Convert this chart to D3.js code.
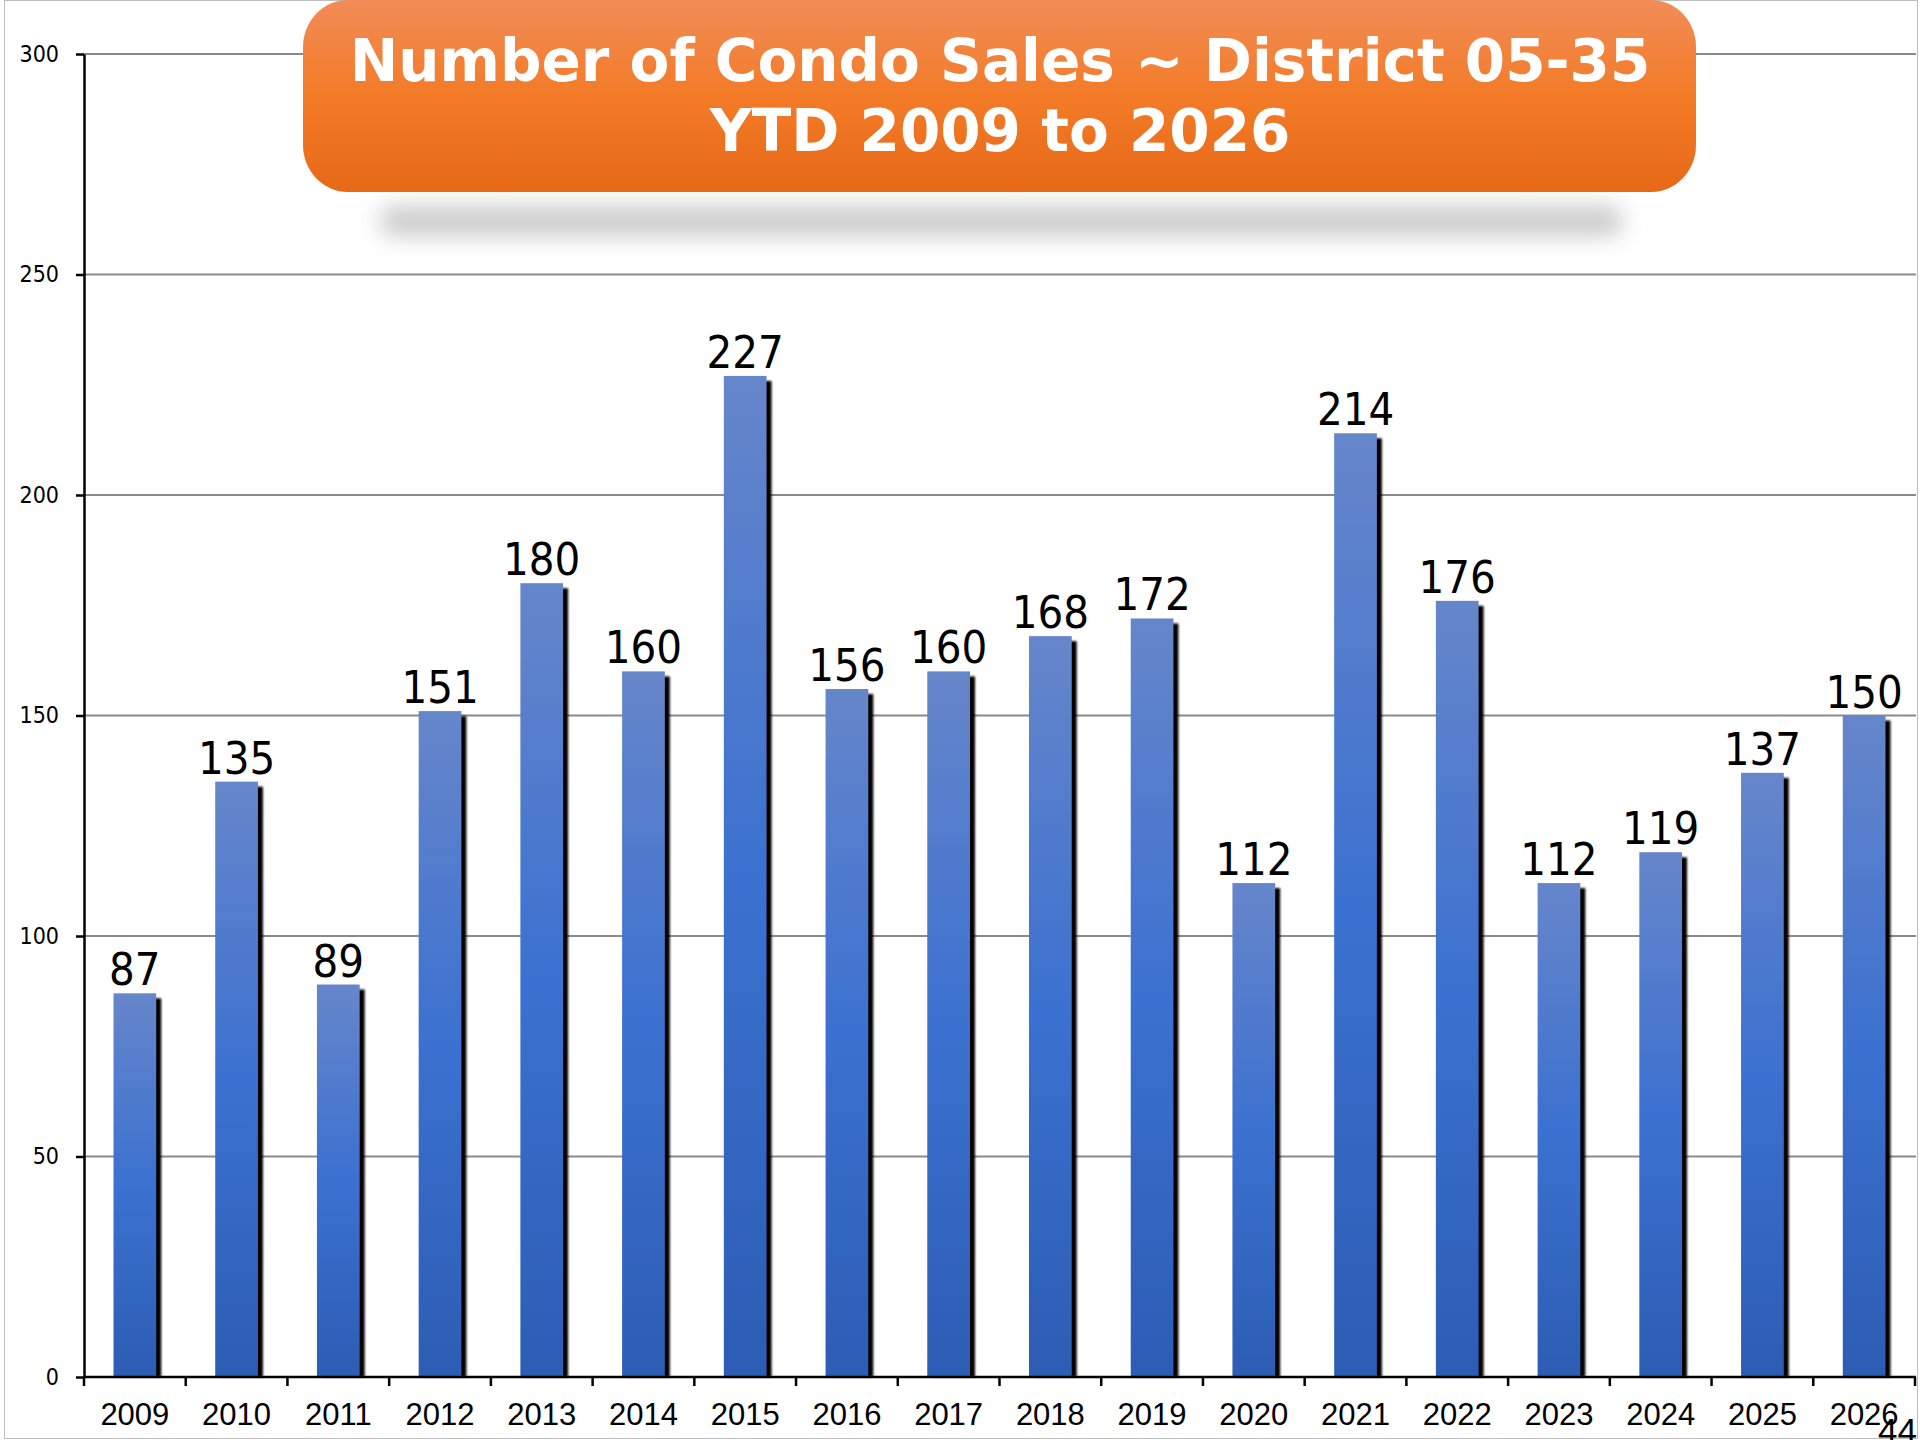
<!DOCTYPE html>
<html>
<head>
<meta charset="utf-8">
<script src="https://cdn.jsdelivr.net/npm/d3@7"></script>
<style>
    body { margin: 0; background: #fff; }
    svg { display: block; }
</style>
</head>
<body>
<svg width="1920" height="1440"></svg>
<script>
const years = ["2009", "2010", "2011", "2012", "2013", "2014", "2015", "2016", "2017",
    "2018", "2019", "2020", "2021", "2022", "2023", "2024", "2025", "2026"];
const sales = [87, 135, 89, 151, 180, 160, 227, 156, 160, 168, 172, 112, 214, 176, 112, 119, 137, 150];
const yTicks = [0, 50, 100, 150, 200, 250, 300];
const titleLines = ["Number of Condo Sales ~ District 05-35", "YTD 2009 to 2026"];
const pageNumber = "44";

const data = years.map((y, i) => ({ year: y, value: sales[i] }));

const plotLeft = 84, plotRight = 1915, plotTop = 54, plotBottom = 1377;
const condensed = "'DejaVu Sans Condensed', 'DejaVu Sans', sans-serif";

var svg = d3.select("svg");
var defs = svg.append("defs");

var barGrad = defs.append("linearGradient")
    .attr("id", "barGrad")
    .attr("x1", 0).attr("y1", 0).attr("x2", 0).attr("y2", 1);
barGrad.append("stop").attr("offset", "0%").attr("stop-color", "#6686ca");
barGrad.append("stop").attr("offset", "50%").attr("stop-color", "#3b71d0");
barGrad.append("stop").attr("offset", "100%").attr("stop-color", "#2c5db4");

var titleGrad = defs.append("linearGradient")
    .attr("id", "titleGrad")
    .attr("x1", 0).attr("y1", 0).attr("x2", 0).attr("y2", 1);
titleGrad.append("stop").attr("offset", "0%").attr("stop-color", "#f18c58");
titleGrad.append("stop").attr("offset", "50%").attr("stop-color", "#f37b27");
titleGrad.append("stop").attr("offset", "100%").attr("stop-color", "#e76918");

defs.append("filter").attr("id", "blurBig")
    .attr("x", "-20%").attr("y", "-150%").attr("width", "140%").attr("height", "400%")
    .append("feGaussianBlur").attr("stdDeviation", 11);
defs.append("filter").attr("id", "blurSmall")
    .append("feGaussianBlur").attr("stdDeviation", 0.8);

// outer frame
svg.append("rect")
    .attr("x", 4.5).attr("y", 0.5)
    .attr("width", 1913).attr("height", 1438)
    .attr("fill", "none")
    .attr("stroke", "#bdbdbd");

var x = d3.scaleBand().domain(years).range([plotLeft, plotRight]);
var y = d3.scaleLinear().domain([0, 300]).range([plotBottom, plotTop]);

// gridlines
svg.append("g")
    .selectAll("line")
    .data(yTicks.filter(d => d > 0))
    .enter()
    .append("line")
    .attr("x1", plotLeft).attr("x2", plotRight + 1)
    .attr("y1", d => y(d)).attr("y2", d => y(d))
    .attr("stroke", "#8a8a8a")
    .attr("stroke-width", 2);

// y axis
var yAxis = svg.append("g")
    .attr("transform", `translate(${plotLeft},0)`)
    .call(d3.axisLeft(y).tickValues(yTicks).tickSize(8).tickPadding(17).tickSizeOuter(0));
yAxis.select(".domain").attr("stroke", "#000").attr("stroke-width", 2.5);
yAxis.selectAll(".tick line").attr("stroke", "#000").attr("stroke-width", 2.5);
yAxis.selectAll(".tick text")
    .attr("font-family", condensed)
    .attr("font-size", 23)
    .attr("fill", "#000");

// bars
var bars = svg.append("g")
    .selectAll("g")
    .data(data)
    .enter()
    .append("g");

const barW = x.bandwidth() * 0.42;

bars.append("rect")
    .attr("x", d => x(d.year) + (x.bandwidth() - barW) / 2 + 5)
    .attr("y", d => y(d.value) + 5)
    .attr("width", barW)
    .attr("height", d => plotBottom - y(d.value) - 5)
    .attr("fill", "#000")
    .attr("filter", "url(#blurSmall)");

bars.append("rect")
    .attr("x", d => x(d.year) + (x.bandwidth() - barW) / 2)
    .attr("y", d => y(d.value))
    .attr("width", barW)
    .attr("height", d => plotBottom - y(d.value))
    .attr("fill", "url(#barGrad)");

bars.append("text")
    .attr("x", d => x(d.year) + x.bandwidth() / 2)
    .attr("y", d => y(d.value) - 8)
    .attr("text-anchor", "middle")
    .attr("font-family", condensed)
    .attr("font-size", 45)
    .attr("fill", "#000")
    .text(d => d.value);

// x axis
var xAxis = svg.append("g");
xAxis.append("line")
    .attr("x1", plotLeft).attr("x2", plotRight + 1)
    .attr("y1", plotBottom).attr("y2", plotBottom)
    .attr("stroke", "#000")
    .attr("stroke-width", 2.5);
xAxis.selectAll(".xtick")
    .data(years.map(d => x(d)).concat([plotRight]))
    .enter()
    .append("line")
    .attr("class", "xtick")
    .attr("x1", d => d).attr("x2", d => d)
    .attr("y1", plotBottom).attr("y2", plotBottom + 9)
    .attr("stroke", "#000")
    .attr("stroke-width", 2.5);
xAxis.selectAll(".xlabel")
    .data(years)
    .enter()
    .append("text")
    .attr("class", "xlabel")
    .attr("x", d => x(d) + x.bandwidth() / 2)
    .attr("y", 1425)
    .attr("text-anchor", "middle")
    .attr("font-family", "'Liberation Sans', Arial, sans-serif")
    .attr("font-size", 31)
    .attr("fill", "#000")
    .text(d => d);

// title box with soft shadow underneath
svg.append("rect")
    .attr("x", 380).attr("y", 206)
    .attr("width", 1243).attr("height", 30)
    .attr("rx", 14)
    .attr("fill", "#cbcbcb")
    .attr("filter", "url(#blurBig)");

svg.append("rect")
    .attr("x", 303).attr("y", 0)
    .attr("width", 1393).attr("height", 192)
    .attr("rx", 45).attr("ry", 47)
    .attr("fill", "url(#titleGrad)");

svg.append("g")
    .selectAll("text")
    .data(titleLines)
    .enter()
    .append("text")
    .attr("x", 1000)
    .attr("y", (d, i) => 81 + i * 70)
    .attr("text-anchor", "middle")
    .attr("font-family", "'DejaVu Sans', Verdana, sans-serif")
    .attr("font-weight", "bold")
    .attr("font-size", 58)
    .attr("fill", "#fff")
    .text(d => d);

// page number
svg.append("text")
    .attr("x", 1917)
    .attr("y", 1443)
    .attr("text-anchor", "end")
    .attr("font-family", "'Liberation Sans', Arial, sans-serif")
    .attr("font-size", 35)
    .attr("fill", "#000")
    .text(pageNumber);
</script>
</body>
</html>
